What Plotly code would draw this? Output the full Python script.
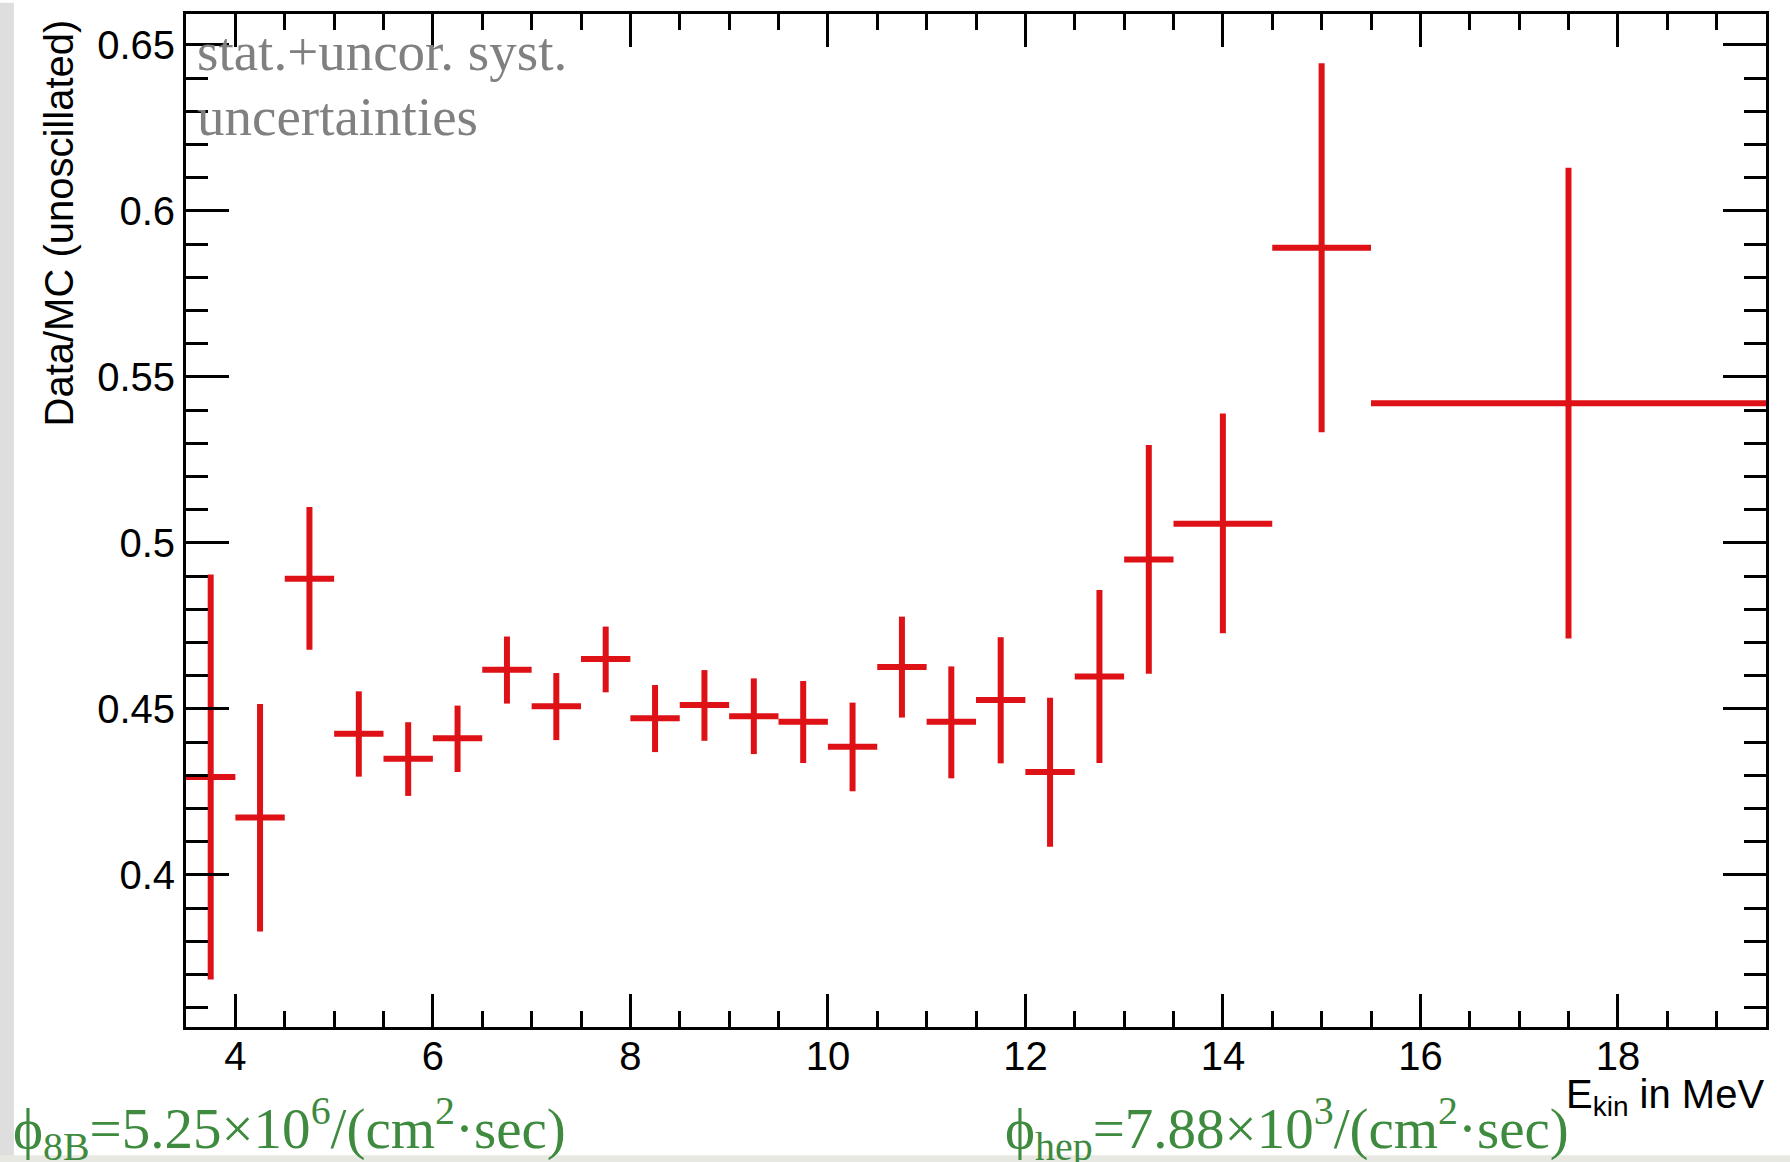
import plotly.graph_objects as go

# ---- data ----
e_center = [3.75, 4.25, 4.75, 5.25, 5.75, 6.25, 6.75, 7.25, 7.75, 8.25,
            8.75, 9.25, 9.75, 10.25, 10.75, 11.25, 11.75, 12.25, 12.75, 13.25,
            14.0, 15.0, 17.5]
e_halfwidth = [0.25] * 20 + [0.5, 0.5, 2.0]
ratio = [0.4295, 0.4173, 0.4892, 0.4425, 0.4350, 0.4412, 0.4618, 0.4508, 0.4650, 0.4472,
         0.4512, 0.4478, 0.4461, 0.4386, 0.4626, 0.4461, 0.4527, 0.4310, 0.4598, 0.4950,
         0.5058, 0.5889, 0.5421]
err_up = [0.0610, 0.0342, 0.0216, 0.0128, 0.0110, 0.0098, 0.0100, 0.0100, 0.0098, 0.0100,
          0.0105, 0.0114, 0.0123, 0.0133, 0.0152, 0.0167, 0.0189, 0.0224, 0.0260, 0.0345,
          0.0332, 0.0556, 0.0709]
err_down = [0.0610, 0.0343, 0.0214, 0.0129, 0.0112, 0.0102, 0.0102, 0.0102, 0.0100, 0.0102,
            0.0108, 0.0114, 0.0124, 0.0134, 0.0152, 0.0170, 0.0191, 0.0225, 0.0261, 0.0344,
            0.0330, 0.0556, 0.0709]

x_tickvals = [4, 6, 8, 10, 12, 14, 16, 18]
x_ticktext = ["4", "6", "8", "10", "12", "14", "16", "18"]
y_tickvals = [0.4, 0.45, 0.5, 0.55, 0.6, 0.65]
y_ticktext = ["0.4", "0.45", "0.5", "0.55", "0.6", "0.65"]

RED = "rgb(222,18,22)"
GREEN = "rgb(62,138,62)"
GRAY = "rgb(128,128,128)"
SANS = "Liberation Sans, Arial, sans-serif"
SERIF = "Liberation Serif, Times New Roman, serif"

fig = go.Figure()
fig.add_trace(go.Scatter(
    x=e_center, y=ratio, mode="markers",
    marker=dict(size=1, color=RED, opacity=0),
    error_x=dict(type="data", array=e_halfwidth, symmetric=True,
                 color=RED, thickness=6, width=0),
    error_y=dict(type="data", array=err_up, arrayminus=err_down, symmetric=False,
                 color=RED, thickness=6, width=0),
    showlegend=False, hoverinfo="skip",
))

axis_common = dict(
    showgrid=False, zeroline=False, showline=True, linecolor="black", linewidth=3,
    mirror="ticks", ticks="inside", tickcolor="black", tickwidth=2.5,
    tickfont=dict(family=SANS, size=40, color="black"),
)

fig.update_xaxes(
    range=[3.5, 19.5], tickmode="array", tickvals=x_tickvals, ticktext=x_ticktext,
    ticklen=33, ticklabelstandoff=-8,
    minor=dict(dtick=0.5, tick0=3.5, ticks="inside", ticklen=16, tickwidth=2.5,
               tickcolor="black", showgrid=False),
    **axis_common,
)
fig.update_yaxes(
    range=[0.3542, 0.6593], tickmode="array", tickvals=y_tickvals, ticktext=y_ticktext,
    ticklen=43,
    minor=dict(dtick=0.01, tick0=0.35, ticks="inside", ticklen=22, tickwidth=2.5,
               tickcolor="black", showgrid=False),
    **axis_common,
)

annotations = [
    dict(text="Data/MC (unoscillated)", textangle=-90, xref="paper", yref="paper",
         x=-0.0804, y=0.997, xanchor="center", yanchor="top", showarrow=False,
         font=dict(family=SANS, size=40, color="black")),
    dict(text="E<sub>kin</sub> in MeV", xref="paper", yref="paper",
         x=1.0, y=-0.069, xanchor="right", yanchor="middle", showarrow=False,
         font=dict(family=SANS, size=40, color="black")),
    dict(text="stat.+uncor. syst.", xref="paper", yref="paper",
         x=0.006, y=0.9627, xanchor="left", yanchor="middle", showarrow=False,
         font=dict(family=SERIF, size=55, color=GRAY)),
    dict(text="uncertainties", xref="paper", yref="paper",
         x=0.006, y=0.8986, xanchor="left", yanchor="middle", showarrow=False,
         font=dict(family=SERIF, size=55, color=GRAY)),
    dict(text="\u03d5<sub>8B</sub>=5.25\u00d710<sup>6</sup>/(cm<sup>2</sup>\u00b7sec)",
         xref="paper", yref="paper", x=-0.1108, y=-0.1004,
         xanchor="left", yanchor="middle", showarrow=False,
         font=dict(family=SERIF, size=57, color=GREEN)),
    dict(text="\u03d5<sub>hep</sub>=7.88\u00d710<sup>3</sup>/(cm<sup>2</sup>\u00b7sec)",
         xref="paper", yref="paper", x=0.5170, y=-0.1004,
         xanchor="left", yanchor="middle", showarrow=False,
         font=dict(family=SERIF, size=57, color=GREEN)),
]

shapes = [
    dict(type="rect", xref="paper", yref="paper", x0=-0.1180, x1=-0.1089, y0=-0.13, y1=1.011,
         fillcolor="rgb(222,222,222)", line=dict(width=0), layer="below"),
    dict(type="rect", xref="paper", yref="paper", x0=-0.1180, x1=1.016, y0=-0.134, y1=-0.1265,
         fillcolor="rgb(232,232,226)", line=dict(width=0), layer="below"),
]

fig.update_layout(
    width=1790, height=1162,
    margin=dict(l=186, r=24, t=11, b=135, pad=0),
    paper_bgcolor="white", plot_bgcolor="white",
    annotations=annotations, shapes=shapes,
    showlegend=False,
)

fig.write_html("out.html")
